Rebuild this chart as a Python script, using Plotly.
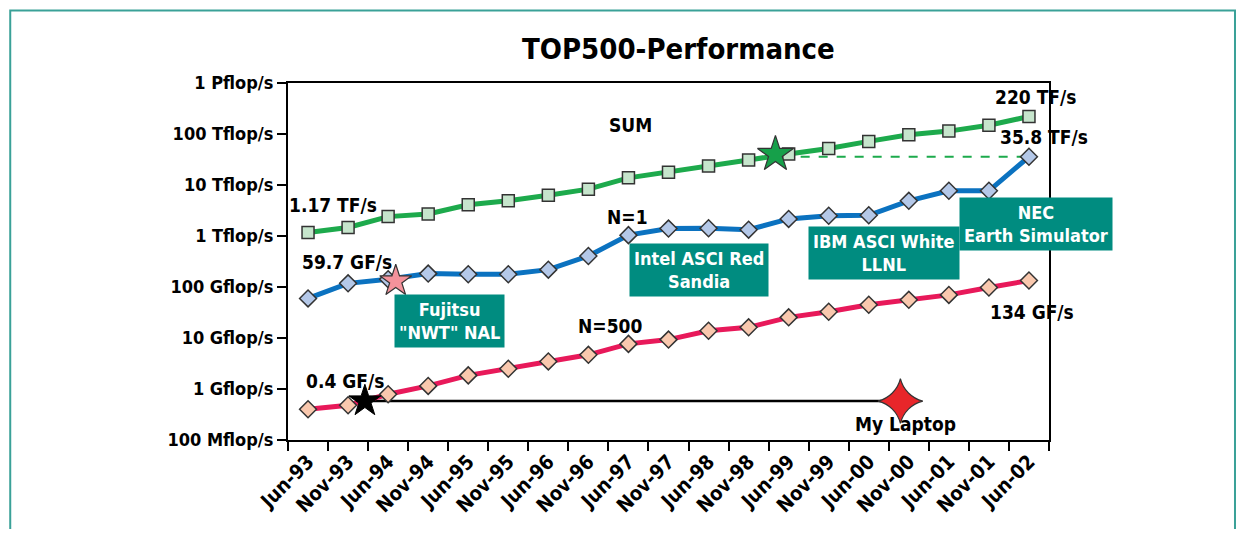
import plotly.graph_objects as go

months = ["Jun-93", "Nov-93", "Jun-94", "Nov-94", "Jun-95", "Nov-95", "Jun-96",
          "Nov-96", "Jun-97", "Nov-97", "Jun-98", "Nov-98", "Jun-99", "Nov-99",
          "Jun-00", "Nov-00", "Jun-01", "Nov-01", "Jun-02"]

# flop/s
sum_perf = [1.17e12, 1.47e12, 2.4e12, 2.7e12, 4.1e12, 4.9e12, 6.3e12, 8.3e12,
            13.8e12, 17.8e12, 23.7e12, 31e12, 40.6e12, 52e12, 71.6e12, 96.6e12,
            114e12, 149e12, 220e12]
n1_perf = [59.7e9, 118e9, 142e9, 183e9, 178e9, 178e9, 219e9, 405e9, 1.04e12,
           1.4e12, 1.42e12, 1.33e12, 2.16e12, 2.5e12, 2.55e12, 4.9e12, 7.7e12,
           7.7e12, 35.8e12]
n500_perf = [0.4e9, 0.48e9, 0.79e9, 1.15e9, 1.85e9, 2.5e9, 3.47e9, 4.68e9, 7.67e9,
             9.3e9, 13.9e9, 16.2e9, 25.4e9, 32.7e9, 44.8e9, 56e9, 70e9, 97.7e9, 134e9]

# highlighted machines: (position on time axis, flop/s)
fujitsu_star = (2.19, 131e9)
earth_sim_star = (11.67, 40e12)
laptop_start = (1.42, 0.58e9)
laptop_end = (14.79, 0.58e9)
earth_dash = ([12.3, 18], [35.8e12, 35.8e12])

y_ticks = [1e8, 1e9, 1e10, 1e11, 1e12, 1e13, 1e14, 1e15]
y_labels = ["100 Mflop/s", "1 Gflop/s", "10 Gflop/s", "100 Gflop/s",
            "1 Tflop/s", "10 Tflop/s", "100 Tflop/s", "1 Pflop/s"]

FONT = "Liberation Sans Narrow, DejaVu Sans Condensed, Arial Narrow, sans-serif"
TEAL = "#008C80"
idx = list(range(len(months)))

fig = go.Figure()

fig.add_trace(go.Scatter(
    x=earth_dash[0], y=earth_dash[1], mode="lines",
    line=dict(color="#1DAA4C", width=2, dash="dash"), hoverinfo="skip"))
fig.add_trace(go.Scatter(
    x=[laptop_start[0], laptop_end[0]], y=[laptop_start[1], laptop_end[1]],
    mode="lines", line=dict(color="black", width=2.5), hoverinfo="skip"))

fig.add_trace(go.Scatter(
    x=idx, y=sum_perf, mode="lines+markers", name="SUM",
    line=dict(color="#1DAA4C", width=5),
    marker=dict(symbol="square", size=12, color="#C6E5CC",
                line=dict(color="#333333", width=1.5))))
fig.add_trace(go.Scatter(
    x=idx, y=n1_perf, mode="lines+markers", name="N=1",
    line=dict(color="#0B72C0", width=5),
    marker=dict(symbol="diamond", size=13, color="#B4C8E8",
                line=dict(color="#333333", width=1.5))))
fig.add_trace(go.Scatter(
    x=idx, y=n500_perf, mode="lines+markers", name="N=500",
    line=dict(color="#E8195A", width=5),
    marker=dict(symbol="diamond", size=13, color="#F9C8AE",
                line=dict(color="#333333", width=1.5))))

fig.add_trace(go.Scatter(
    x=[fujitsu_star[0]], y=[fujitsu_star[1]], mode="markers",
    marker=dict(symbol="star", size=24, color="#F4929B",
                line=dict(color="#333333", width=1.2))))
fig.add_trace(go.Scatter(
    x=[earth_sim_star[0]], y=[earth_sim_star[1]], mode="markers",
    marker=dict(symbol="star", size=27, color="#16A04A",
                line=dict(color="#333333", width=1.2))))
fig.add_trace(go.Scatter(
    x=[laptop_start[0]], y=[laptop_start[1]], mode="markers",
    marker=dict(symbol="star", size=24, color="black",
                line=dict(color="black", width=1))))
fig.add_trace(go.Scatter(
    x=[laptop_end[0]], y=[laptop_end[1]], mode="markers",
    marker=dict(symbol="star-diamond", size=32, color="#E8262A",
                line=dict(color="#333333", width=1.2))))

labels = [
    ("SUM", 8.04, 14.17), ("1.17 TF/s", 0.62, 12.61), ("59.7 GF/s", 0.97, 11.50),
    ("N=1", 7.97, 12.38), ("N=500", 7.54, 10.24), ("0.4 GF/s", 0.92, 9.16),
    ("220 TF/s", 18.17, 14.72), ("35.8 TF/s", 18.37, 13.94),
    ("134 GF/s", 18.07, 10.51), ("My Laptop", 14.92, 8.31),
]
for text, x, y in labels:
    fig.add_annotation(x=x, y=y, text=text, showarrow=False,
                       font=dict(family=FONT, size=19, color="black", weight="bold"))

boxes = [
    ("Fujitsu<br>\"NWT\" NAL", 3.54, 10.33),
    ("Intel ASCI Red<br>Sandia", 9.76, 11.33),
    ("IBM ASCI White<br>LLNL", 14.37, 11.66),
    ("NEC<br>Earth Simulator", 18.17, 12.24),
]
for text, x, y in boxes:
    fig.add_annotation(x=x, y=y, text=text, showarrow=False, bgcolor=TEAL,
                       borderpad=4, align="center",
                       font=dict(family=FONT, size=18, color="white", weight="bold"))

fig.add_annotation(xref="paper", yref="paper", x=0.513, y=1.095, text="TOP500-Performance",
                   showarrow=False, yanchor="middle",
                   font=dict(family=FONT, size=29, color="black", weight="bold"))

fig.add_shape(type="rect", xref="paper", yref="paper",
              x0=-0.365, x1=1.2444, y0=-0.3, y1=1.2033,
              line=dict(color="#3AA198", width=2))

# page body adds 8px around the figure, so the figure is 16px smaller than the window
fig.update_layout(
    width=1228, height=521,
    margin=dict(l=280, r=187, t=75, b=87),
    plot_bgcolor="white", paper_bgcolor="white",
    showlegend=False,
    font=dict(family=FONT, color="black"),
    xaxis=dict(
        range=[-0.5, 18.5], tickvals=idx, ticktext=months, tickangle=-45,
        ticks="", showgrid=False, zeroline=False,
        showline=True, linecolor="black", linewidth=2, mirror=True,
        tickfont=dict(family=FONT, size=20, color="black", weight="bold"),
        minor=dict(tickvals=[i - 0.5 for i in range(len(months) + 1)],
                   ticks="outside", ticklen=9, tickwidth=2, tickcolor="black"),
    ),
    yaxis=dict(
        type="log", range=[8, 15], tickvals=y_ticks, ticktext=y_labels,
        ticks="outside", ticklen=9, tickwidth=1.5, tickcolor="black",
        showgrid=False, zeroline=False,
        showline=True, linecolor="black", linewidth=2, mirror=True,
        tickfont=dict(family=FONT, size=18, color="black", weight="bold"),
    ),
)

fig.write_html("out.html")
